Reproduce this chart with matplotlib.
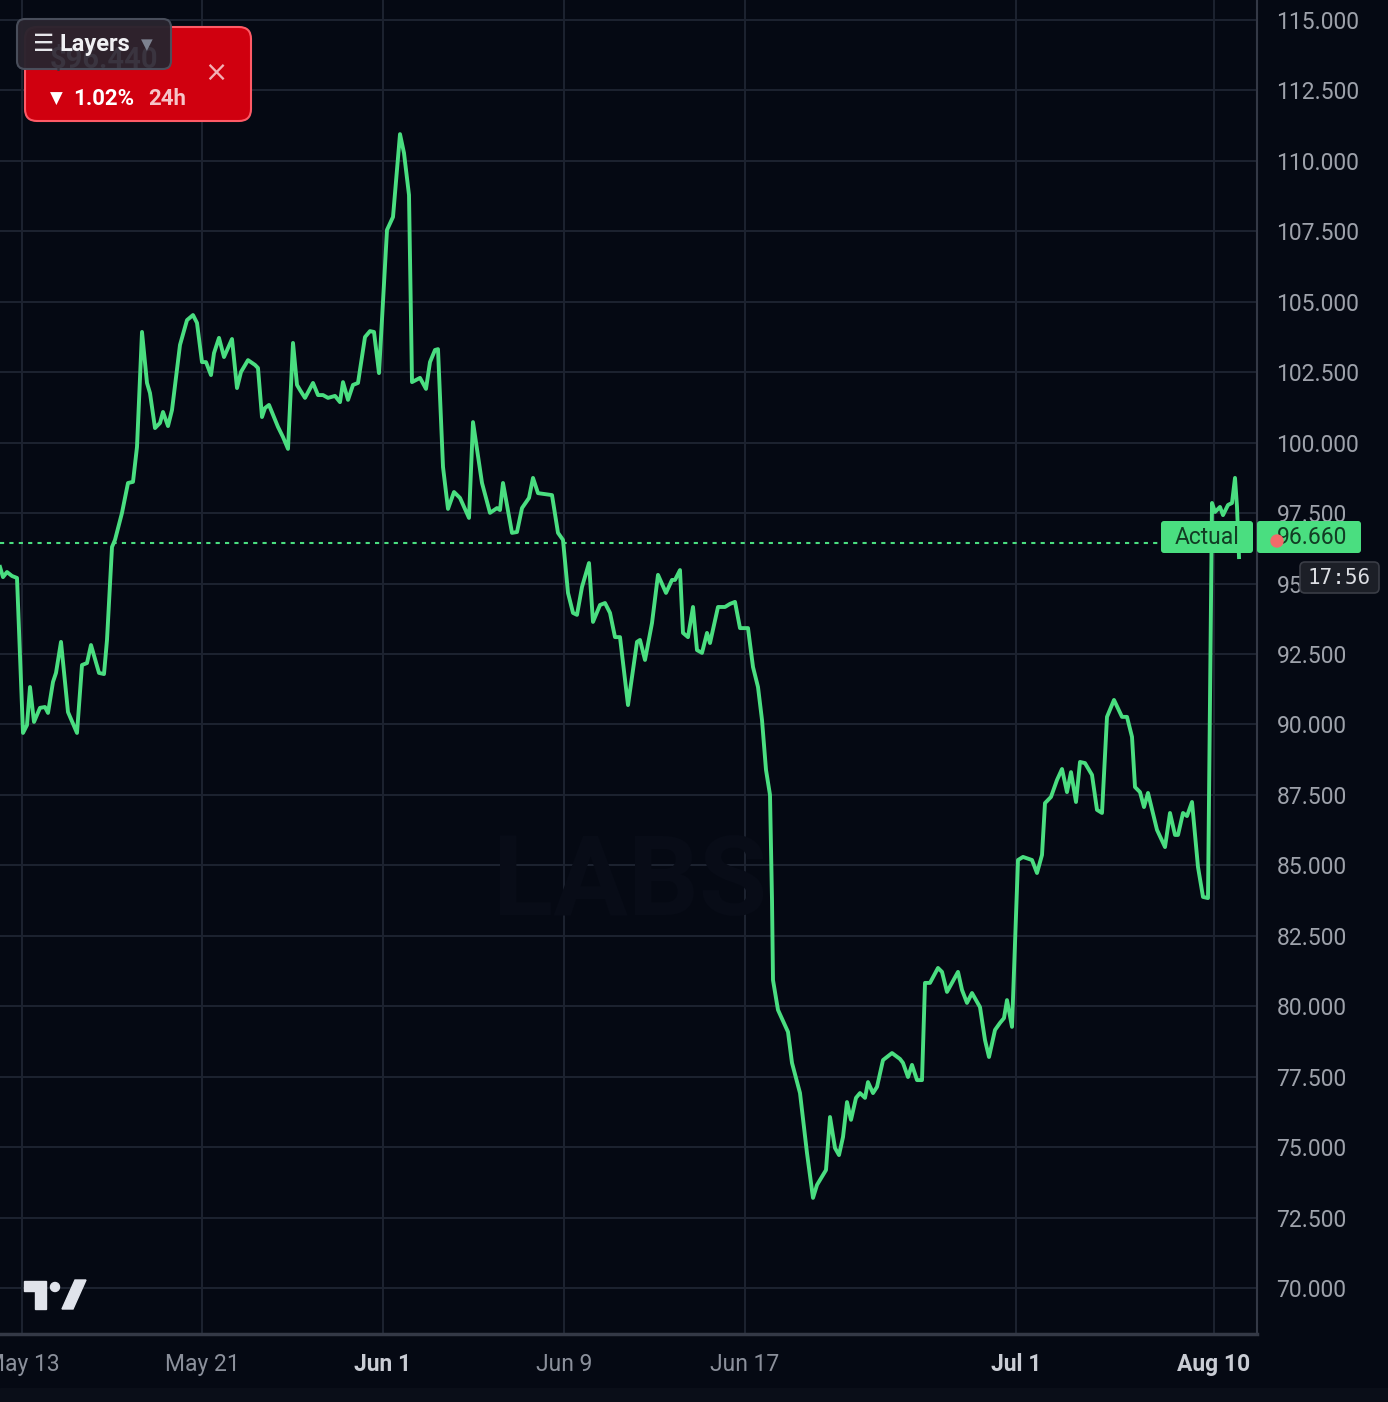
import matplotlib
matplotlib.use("Agg")
import matplotlib.pyplot as plt
from matplotlib.patches import FancyBboxPatch, Circle, Polygon, Rectangle
import numpy as np

# price trace (thousand USD); bar = position on the compressed time axis
bars = [
    0, 0.6, 1.4, 2.4, 3.4, 4.6, 5.4, 6, 6.8, 8,
    9, 9.6, 10.6, 11.2, 12.2, 13.6, 15.4, 16.4, 17.4, 18.2,
    19.8, 20.8, 21.4, 22.4, 23, 24.4, 25.6, 26.6, 27.4, 28.4,
    29.4, 30, 31, 32, 32.6, 33.6, 34.4, 36, 37.4, 38.6,
    39.4, 40.4, 41.2, 42.2, 42.8, 43.8, 44.8, 46.4, 47.4, 48.2,
    49.6, 51, 51.6, 52.4, 53, 53.8, 55.6, 56.6, 57.6, 58.6,
    59.4, 60, 61, 62.6, 63.6, 64.6, 65.6, 67, 68, 68.6,
    69.6, 70.6, 71.6, 73, 74, 74.8, 75.8, 77.4, 78.6, 80,
    80.8, 81.8, 82.4, 84, 85.2, 86, 87, 87.6, 88.6, 89.6,
    90.8, 92, 93.8, 94.6, 96.4, 98, 99.4, 100, 100.6, 102.4,
    103.4, 104.4, 105.8, 106.6, 107.6, 110.4, 111.6, 112.6, 113.6, 114.6,
    115.4, 116.4, 117.8, 118.6, 120, 121, 122, 123, 124, 125.6,
    127.4, 128, 129, 130.4, 131.6, 133.2, 134.4, 135, 136, 136.6,
    137.6, 138.6, 139.4, 140.4, 141.4, 142, 143.6, 145, 146, 147,
    148, 149.6, 150.6, 151.6, 152.4, 153.2, 154, 154.4, 154.6, 155.6,
    157.6, 158.4, 160, 161.4, 162.6, 163.4, 165.2, 166, 167, 167.8,
    168.6, 169.4, 170.2, 171.2, 172, 173, 173.6, 174.6, 175.4, 176.6,
    178.4, 180, 180.6, 181.6, 182.4, 183.4, 184.4, 185, 186, 187.6,
    188.4, 189.4, 191.6, 192.4, 193.4, 194.4, 196, 197, 197.8, 199,
    200, 200.8, 201.4, 202.4, 203.6, 204.6, 206.4, 207.4, 208.4, 209,
    210.2, 211.4, 212.4, 213.4, 214.2, 215.2, 216, 217, 218.4, 219.4,
    220.4, 221.4, 222.8, 224.4, 225.4, 226.4, 227, 228, 228.8, 229.6,
    231.4, 233, 234, 235, 235.6, 236.6, 237.4, 238.4, 239.6, 240.6,
    241.6, 242.4, 243, 244, 244.6, 245.6, 246.4, 247, 247.4, 247.8,
]
prices = [
    95.59, 95.23, 95.41, 95.27, 95.20, 89.70, 89.98, 91.33, 90.09, 90.59,
    90.62, 90.41, 91.51, 91.83, 92.93, 90.44, 89.70, 92.11, 92.18, 92.82,
    91.83, 91.79, 93.00, 96.30, 96.55, 97.51, 98.57, 98.61, 99.85, 103.93,
    102.12, 101.76, 100.52, 100.70, 101.09, 100.59, 101.16, 103.47, 104.35, 104.53,
    104.25, 102.86, 102.86, 102.40, 103.18, 103.72, 103.04, 103.68, 101.94, 102.51,
    102.93, 102.76, 102.65, 100.91, 101.23, 101.34, 100.56, 100.20, 99.78, 103.54,
    102.05, 101.87, 101.59, 102.12, 101.69, 101.69, 101.59, 101.66, 101.44, 102.15,
    101.52, 102.05, 102.12, 103.75, 103.96, 103.93, 102.47, 107.55, 108.01, 110.95,
    110.28, 108.79, 102.15, 102.30, 101.91, 102.86, 103.29, 103.32, 99.14, 97.65,
    98.25, 98.04, 97.33, 100.73, 98.57, 97.51, 97.68, 97.61, 98.57, 96.80,
    96.83, 97.68, 98.04, 98.75, 98.21, 98.14, 96.80, 96.55, 94.67, 93.96,
    93.89, 94.88, 95.73, 93.64, 94.24, 94.31, 93.96, 93.10, 93.10, 90.69,
    92.93, 93.00, 92.29, 93.60, 95.31, 94.67, 95.13, 95.13, 95.48, 93.25,
    93.10, 94.17, 92.64, 92.54, 93.25, 92.89, 94.17, 94.17, 94.28, 94.35,
    93.42, 93.42, 92.04, 91.33, 90.16, 88.39, 87.50, 83.77, 80.93, 79.87,
    79.09, 77.99, 76.92, 74.79, 73.20, 73.66, 74.19, 76.07, 74.97, 74.72,
    75.36, 76.60, 75.97, 76.75, 76.92, 76.75, 77.31, 76.92, 77.14, 78.09,
    78.34, 78.13, 77.99, 77.49, 77.92, 77.38, 77.38, 80.83, 80.83, 81.36,
    81.22, 80.51, 81.22, 80.58, 80.12, 80.47, 79.97, 78.80, 78.20, 79.16,
    79.41, 79.58, 80.22, 79.27, 85.19, 85.30, 85.19, 84.73, 85.37, 87.21,
    87.43, 88.03, 88.42, 87.60, 88.31, 87.25, 88.67, 88.63, 88.21, 86.97,
    86.86, 90.27, 90.87, 90.27, 90.27, 89.56, 87.78, 87.60, 87.07, 87.57,
    86.26, 85.65, 86.86, 86.08, 86.08, 86.86, 86.75, 87.25, 84.94, 83.88,
    83.84, 97.86, 97.54, 97.72, 97.43, 97.79, 97.86, 98.75, 97.72, 95.94,
]

x_tick_pos = [4.4, 40.4, 76.6, 112.8, 149, 203.2, 242.8]
x_tick_labels = ["May 13", "May 21", "Jun 1", "Jun 9", "Jun 17", "Jul 1", "Aug 10"]
x_tick_bold = [False, False, True, False, False, True, True]
y_ticks = np.arange(70, 115.1, 2.5)

ref_price = 96.44
actual_price = 96.66
change_pct = -1.02

BG = "#050913"
GRID = "#1d2330"
GREEN = "#4ade80"

plt.rcParams["font.family"] = ["Roboto", "DejaVu Sans"]

fig = plt.figure(figsize=(13.88, 14.02), dpi=100, facecolor=BG)
ax = fig.add_axes([0, 68 / 1402, 1257 / 1388, 1334 / 1402])
ax.set_facecolor(BG)

ax.plot(bars, prices, color=GREEN, lw=2.8, solid_joinstyle="round", zorder=5)
ax.axhline(ref_price, xmax=1160 / 1257, color=GREEN, lw=1.5,
           linestyle=(0, (2, 2.5)), zorder=4)

ax.set_xlim(0, 251.4)
ax.set_ylim(68.37, 115.71)
ax.set_yticks(y_ticks)
ax.set_yticklabels([f"{v:.3f}" for v in y_ticks])
ax.yaxis.tick_right()
ax.set_xticks(x_tick_pos)
ax.set_xticklabels(x_tick_labels)
ax.tick_params(axis="y", length=0, pad=14, labelsize=16.5, labelcolor="#9ea2ab")
ax.tick_params(axis="x", length=0, pad=14, labelsize=16.5, labelcolor="#8b909b")
for lab, b in zip(ax.get_xticklabels(), x_tick_bold):
    if b:
        lab.set_fontweight("bold")
        lab.set_color("#c9ccd4")
ax.grid(True, color=GRID, lw=1.4, zorder=0)
for s in ["top", "left"]:
    ax.spines[s].set_visible(False)
ax.spines["right"].set_color("#343946")
ax.spines["right"].set_linewidth(1.5)
ax.spines["bottom"].set_color("#343946")
ax.spines["bottom"].set_linewidth(2.5)

# overlay in pixel space for the TradingView widgets
ov = fig.add_axes([0, 0, 1, 1], zorder=10)
ov.set_xlim(0, 1388)
ov.set_ylim(1402, 0)
ov.axis("off")
ov.patch.set_alpha(0)

# faint watermark
ov.text(630, 885, "LABS", fontsize=80, color="#080c17", ha="center", va="center",
        fontweight="bold", zorder=1)

# bottom strip
ov.add_patch(Rectangle((0, 1388), 1388, 14, color="#0a0e18", zorder=1))

# red price box
ov.add_patch(FancyBboxPatch((25, 27), 226, 94, boxstyle="round,pad=0,rounding_size=12",
                            fc="#d0000f", ec="#ff5a66", lw=1.5, zorder=2))
ov.text(50, 99, "▼", color="white", fontsize=12, va="center", family="DejaVu Sans", zorder=3)
ov.text(73, 99, f"{abs(change_pct):.2f}%", color="white", fontsize=16, fontweight="bold",
        va="center", zorder=3)
ov.text(148, 99, "24h", color="#f6c4c8", fontsize=16, fontweight="bold", va="center", zorder=3)
ov.text(216, 73, "×", color="#f3b0b5", fontsize=20, va="center", ha="center",
        family="DejaVu Sans", zorder=3)

# layers button
layers = FancyBboxPatch((17, 19), 154, 50, boxstyle="round,pad=0,rounding_size=8",
                        fc="#29242e", ec="#4b505d", lw=1.5, alpha=0.97, zorder=4)
ov.add_patch(layers)
t = ov.text(50, 60, f"${ref_price:.3f}", color="#3a343f", fontsize=21,
            va="center", fontweight="bold", zorder=5)
t.set_clip_path(layers)
ov.text(33, 44, "☰", color="#e6e6ea", fontsize=17, va="center", family="DejaVu Sans",
        fontweight="bold", zorder=6)
ov.text(60, 44, "Layers", color="#f0f0f3", fontsize=17, fontweight="bold", va="center", zorder=6)
ov.text(141, 45, "▼", color="#7d8290", fontsize=11, va="center", family="DejaVu Sans", zorder=6)

# Actual / price labels on the right
ov.add_patch(FancyBboxPatch((1161, 521), 92, 32, boxstyle="round,pad=0,rounding_size=3",
                            fc=GREEN, ec="none", zorder=4))
ov.text(1207, 538, "Actual", color="#123d24", fontsize=16.5, ha="center", va="center", zorder=5)
ov.add_patch(FancyBboxPatch((1257, 521), 104, 32, boxstyle="round,pad=0,rounding_size=3",
                            fc=GREEN, ec="none", zorder=4))
ov.text(1312, 538, f"{actual_price:.3f}", color="#123d24", fontsize=16.5, ha="center",
        va="center", zorder=5)
ov.add_patch(Circle((1277, 541), 6, color="#f36a6a", zorder=6))

ov.add_patch(FancyBboxPatch((1300, 562), 79, 31, boxstyle="round,pad=0,rounding_size=5",
                            fc="#1c1f27", ec="#3a3d46", lw=1.2, zorder=4))
ov.text(1339.5, 578, "17:56", color="#dcdee3", fontsize=15, ha="center", va="center",
        family="DejaVu Sans Mono", zorder=5)

# TradingView logo
logo_c = "#e0e3eb"
ov.add_patch(Polygon([(24, 1281), (46, 1281), (46, 1309), (35, 1309), (35, 1291), (24, 1291)],
                     closed=True, color=logo_c, zorder=3))
ov.add_patch(Circle((55, 1287), 4.5, color=logo_c, zorder=3))
ov.add_patch(Polygon([(62, 1309), (73, 1309), (86, 1280), (75, 1280)], closed=True,
                     color=logo_c, zorder=3))

fig.savefig("out.png", dpi=100, facecolor=BG)
